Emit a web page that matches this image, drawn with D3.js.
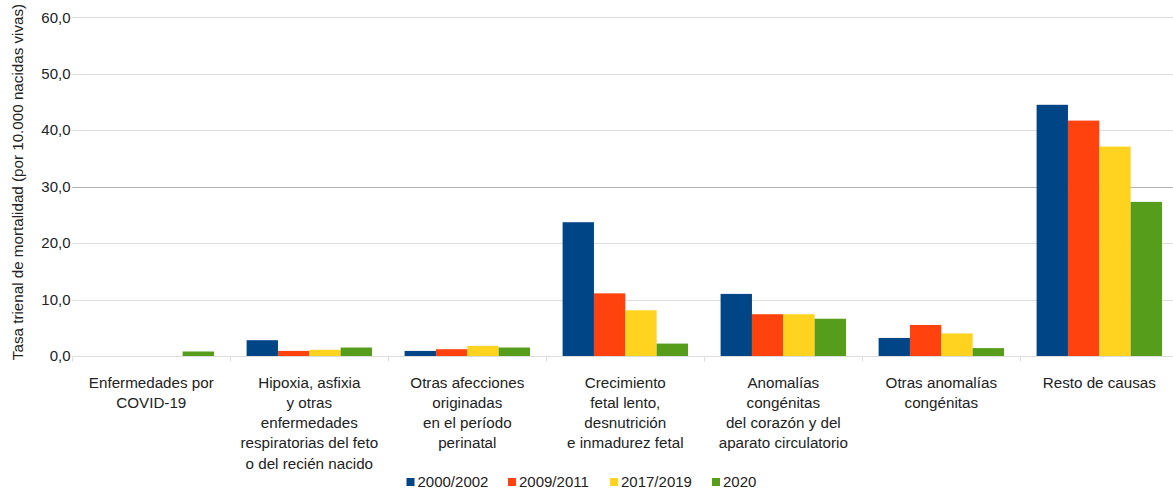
<!DOCTYPE html>
<html>
<head>
<meta charset="utf-8">
<script src="https://cdn.jsdelivr.net/npm/d3@7"></script>
<style>
  html, body { margin: 0; padding: 0; background: #fff; }
  svg { display: block; font-family: "Liberation Sans", Arial, sans-serif; }
</style>
</head>
<body>
<svg id="chart" width="1173" height="492"></svg>
<script>
const categories = [
  ["Enfermedades por", "COVID-19"],
  ["Hipoxia, asfixia", "y otras", "enfermedades", "respiratorias del feto", "o del recién nacido"],
  ["Otras afecciones", "originadas", "en el período", "perinatal"],
  ["Crecimiento", "fetal lento,", "desnutrición", "e inmadurez fetal"],
  ["Anomalías", "congénitas", "del corazón y del", "aparato circulatorio"],
  ["Otras anomalías", "congénitas"],
  ["Resto de causas"]
];
const seriesNames = ["2000/2002", "2009/2011", "2017/2019", "2020"];
const s2000_2002 = [null, 2.8, 0.9, 23.7, 11.0, 3.2, 44.5];
const s2009_2011 = [null, 0.9, 1.2, 11.1, 7.4, 5.5, 41.7];
const s2017_2019 = [null, 1.1, 1.8, 8.1, 7.4, 4.0, 37.1];
const s2020      = [0.8, 1.5, 1.5, 2.2, 6.6, 1.4, 27.3];
const seriesColors = ["#004586", "#ff420e", "#ffd320", "#579d1c"];
const yTicks = [0, 10, 20, 30, 40, 50, 60];
const yTitle = "Tasa trienal de mortalidad (por 10.000 nacidas vivas)";

const series = [s2000_2002, s2009_2011, s2017_2019, s2020];
const svg = d3.select("#chart");

const pLeft = 72.3, pRight = 1178.3, pTop = 17.3, pBottom = 356;

const x0 = d3.scaleBand().domain(d3.range(categories.length)).range([pLeft, pRight]).paddingInner(0).paddingOuter(0);
const x1 = d3.scaleBand().domain(d3.range(series.length)).range([0, x0.bandwidth()]).paddingInner(0).paddingOuter(0.52);
const y = d3.scaleLinear().domain([0, 60]).range([pBottom, pTop]);

// gridlines
svg.append("g").selectAll("line").data(yTicks).join("line")
  .attr("x1", pLeft).attr("x2", 1173)
  .attr("y1", d => Math.round(y(d)) + 0.5).attr("y2", d => Math.round(y(d)) + 0.5)
  .attr("stroke", d => d === 30 ? "#b3b3b3" : "#dddddd")
  .attr("stroke-width", 1);

// category ticks
svg.append("g").selectAll("line").data(d3.range(categories.length + 1)).join("line")
  .attr("x1", d => Math.round(pLeft + d * x0.bandwidth()) + 0.5)
  .attr("x2", d => Math.round(pLeft + d * x0.bandwidth()) + 0.5)
  .attr("y1", Math.round(pBottom) + 0.5).attr("y2", Math.round(pBottom) + 5.5)
  .attr("stroke", "#dddddd");

// bars
const groups = svg.append("g").selectAll("g").data(categories).join("g")
  .attr("transform", (d, i) => `translate(${x0(i)},0)`);
groups.selectAll("rect")
  .data((d, i) => series.map((s, k) => ({k, v: s[i]})).filter(e => e.v != null))
  .join("rect")
  .attr("x", e => x1(e.k))
  .attr("width", x1.bandwidth())
  .attr("y", e => y(e.v))
  .attr("height", e => y(0) - y(e.v))
  .attr("fill", e => seriesColors[e.k]);

// y tick labels
svg.append("g").selectAll("text").data(yTicks).join("text")
  .attr("x", 70.5).attr("y", d => y(d)).attr("dy", "0.35em")
  .attr("text-anchor", "end").attr("font-size", 15).attr("fill", "#222")
  .text(d => d3.format(".1f")(d).replace(".", ","));

// y title
svg.append("text")
  .attr("transform", `translate(23,182) rotate(-90)`)
  .attr("text-anchor", "middle").attr("font-size", 15.2).attr("fill", "#222")
  .text(yTitle);

// category labels
const cl = svg.append("g").selectAll("text").data(categories).join("text")
  .attr("text-anchor", "middle").attr("font-size", 15.2).attr("fill", "#222")
  .attr("transform", (d, i) => `translate(${x0(i) + x0.bandwidth() / 2},${pBottom + 31.5})`);
cl.selectAll("tspan").data(d => d).join("tspan")
  .attr("x", 0).attr("y", (d, j) => j * 20.3)
  .text(d => d);

// legend
const legendX = [406.5, 508, 610, 712];
const lg = svg.append("g").selectAll("g").data(seriesNames).join("g")
  .attr("transform", (d, i) => `translate(${legendX[i]},478)`);
lg.append("rect").attr("width", 8).attr("height", 8).attr("fill", (d, i) => seriesColors[i]);
lg.append("text").attr("x", 11).attr("y", 4).attr("dy", "0.35em")
  .attr("font-size", 15).attr("fill", "#222").text(d => d);
</script>
</body>
</html>
